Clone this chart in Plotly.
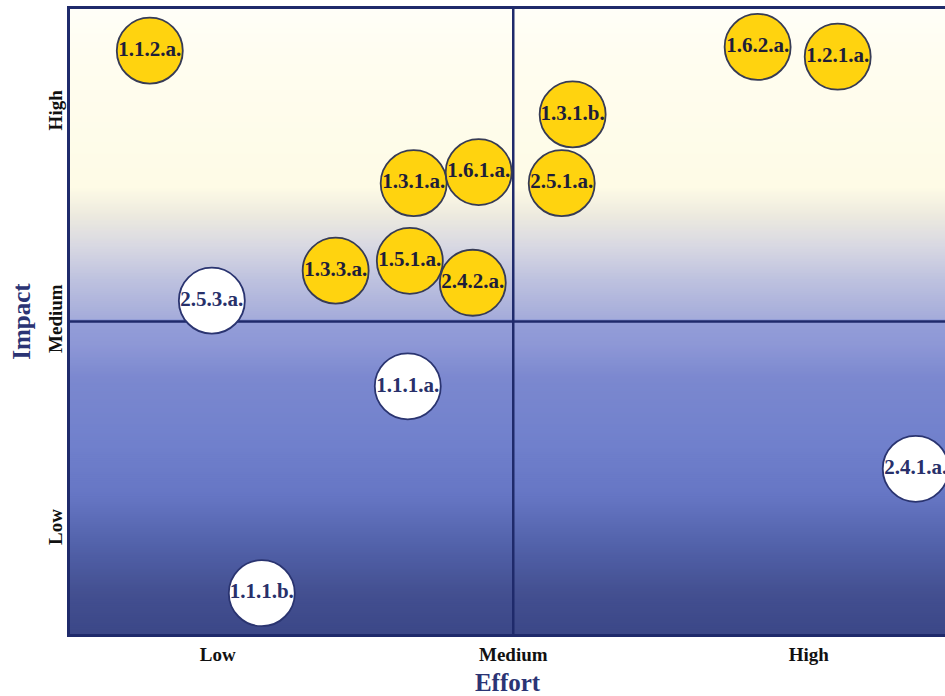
import plotly.graph_objects as go

# ---- data ----
yellow_labels = ["1.1.2.a.", "1.6.2.a.", "1.2.1.a.", "1.3.1.b.", "2.5.1.a.", "1.3.1.a.",
                 "1.6.1.a.", "1.3.3.a.", "1.5.1.a.", "2.4.2.a."]
yellow_effort = [0.77, 2.827, 3.098, 2.201, 2.164, 1.663, 1.883, 1.399, 1.650, 1.863]
yellow_impact = [3.30, 3.318, 3.271, 2.994, 2.664, 2.664, 2.717, 2.244, 2.291, 2.186]

white_labels = ["2.5.3.a.", "1.1.1.a.", "2.4.1.a.", "1.1.1.b."]
white_effort = [0.980, 1.643, 3.362, 1.149]
white_impact = [2.100, 1.689, 1.293, 0.696]

tick_vals = [1, 2, 3]
x_tick_text = ["Low", "Medium", "High"]
y_tick_text = ["Low", "Medium", "High"]

# ---- style ----
FONT = "Liberation Serif"
NAVY = "#1F2A6B"
W, H = 945, 696
ML, MR, MT, MB = 70, 0, 9, 59
plot_h = H - MT - MB

# gradient stops (pixel y -> colour)
stops = [
    (9, "#FFFEF8"), (60, "#FFFDF0"), (190, "#FEFBE6"), (217, "#EEEBDF"),
    (250, "#D8D8E2"), (283, "#BEC2DF"), (322, "#A5ACDA"), (324, "#949ED8"),
    (350, "#8D97D6"), (383, "#7B88CF"), (450, "#7080CC"), (500, "#6676C4"),
    (550, "#5262AA"), (600, "#434F90"), (637, "#3C4888"),
]


def hex2rgb(h):
    h = h.lstrip("#")
    return tuple(int(h[i:i + 2], 16) for i in (0, 2, 4))


def colour_at(py):
    for (p0, c0), (p1, c1) in zip(stops[:-1], stops[1:]):
        if p0 <= py <= p1:
            t = 0 if p1 == p0 else (py - p0) / (p1 - p0)
            a, b = hex2rgb(c0), hex2rgb(c1)
            r = [round(a[i] + (b[i] - a[i]) * t) for i in range(3)]
            return "rgb(%d,%d,%d)" % tuple(r)
    return stops[-1][1] if py > stops[-1][0] else stops[0][1]


shapes = []
band = 2
py = MT
while py < H - MB:
    y_top = 1 - (py - MT) / plot_h
    y_bot = max(0, 1 - (py + band - MT) / plot_h)
    shapes.append(dict(type="rect", xref="paper", yref="paper", x0=0, x1=1,
                       y0=y_bot, y1=min(1, y_top + 0.004), line=dict(width=0),
                       fillcolor=colour_at(py + band / 2), layer="below"))
    py += band

# quadrant divider lines
shapes.append(dict(type="line", xref="x", yref="paper", x0=2, x1=2, y0=0, y1=1,
                   line=dict(color=NAVY, width=2.5), layer="below"))
shapes.append(dict(type="line", xref="paper", yref="y", x0=0, x1=1, y0=2, y1=2,
                   line=dict(color=NAVY, width=2.5), layer="below"))

fig = go.Figure()
fig.add_trace(go.Scatter(
    x=yellow_effort, y=yellow_impact, text=yellow_labels, mode="markers+text",
    textposition="middle center",
    marker=dict(size=66, color="#FFD30F", line=dict(color="#363B55", width=1.8)),
    textfont=dict(family=FONT, size=21, color="#1E1E3A", weight="bold"),
    hoverinfo="text", showlegend=False, cliponaxis=False,
))
fig.add_trace(go.Scatter(
    x=white_effort, y=white_impact, text=white_labels, mode="markers+text",
    textposition="middle center",
    marker=dict(size=66, color="#FFFFFF", line=dict(color="#2A3470", width=1.8)),
    textfont=dict(family=FONT, size=21, color="#28306A", weight="bold"),
    hoverinfo="text", showlegend=False, cliponaxis=False,
))

fig.update_layout(
    width=W, height=H,
    margin=dict(l=ML, r=MR, t=MT, b=MB, pad=0),
    paper_bgcolor="white", plot_bgcolor="white",
    shapes=shapes,
    xaxis=dict(
        range=[0.5, 0.5 + (W - ML - MR) / 295.5], tickvals=tick_vals, ticktext=x_tick_text,
        showgrid=False, zeroline=False, showline=True, linecolor=NAVY, linewidth=3,
        mirror=True, ticks="", ticklabelstandoff=1,
        tickfont=dict(family=FONT, size=19, color="#111111", weight="bold"),
        title=dict(text="Effort", standoff=14,
                   font=dict(family=FONT, size=25, color="#2B3474", weight="bold")),
        fixedrange=True,
    ),
    yaxis=dict(
        range=[0.5, 3.5], tickvals=tick_vals, ticktext=y_tick_text, tickangle=-90,
        showgrid=False, zeroline=False, showline=True, linecolor=NAVY, linewidth=3,
        mirror=False, ticks="", ticklabelstandoff=-3,
        tickfont=dict(family=FONT, size=19, color="#111111", weight="bold"),
        title=dict(text="Impact", standoff=8,
                   font=dict(family=FONT, size=25, color="#2B3474", weight="bold")),
        fixedrange=True,
    ),
)

fig.write_html("out.html")
